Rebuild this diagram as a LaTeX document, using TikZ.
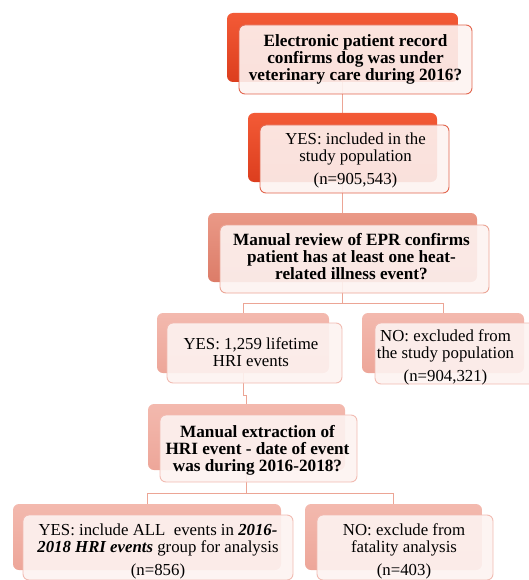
\documentclass[tikz,border=0pt]{standalone}
\usepackage{fontspec}
\setmainfont{Liberation Serif}
\usetikzlibrary{backgrounds}
\definecolor{redtop}{HTML}{F35A36}
\definecolor{redbot}{HTML}{DC3E1E}
\definecolor{midtop}{HTML}{EA9987}
\definecolor{midbot}{HTML}{DC7C68}
\definecolor{lighttop}{HTML}{F3B9AE}
\definecolor{lightbot}{HTML}{EDA699}
\definecolor{frontfill}{HTML}{FDF3F1}
\definecolor{redline}{HTML}{E2664E}
\definecolor{midline}{HTML}{EBA596}
\definecolor{lightline}{HTML}{F2BBB2}
\definecolor{connc}{HTML}{ECA595}
\tikzset{
  backbox/.style={rounded corners=6pt, inner sep=0pt, draw=none},
  backred/.style={backbox, top color=redtop, bottom color=redbot},
  backmid/.style={backbox, top color=midtop, bottom color=midbot},
  backlight/.style={backbox, top color=lighttop, bottom color=lightbot},
  frontbox/.style={rounded corners=6pt, inner sep=0pt, fill=frontfill, fill opacity=0.9, text opacity=1, line width=0.9pt},
  frontred/.style={frontbox, draw=redline},
  frontmid/.style={frontbox, draw=midline},
  frontlight/.style={frontbox, draw=lightline},
  txt/.style={align=center, inner sep=0pt, font=\fontsize{16.8}{17}\selectfont, text=black},
  btxt/.style={txt, font=\fontsize{17.2}{17}\selectfont\bfseries},
  conn/.style={draw=connc, line width=0.9pt},
}
\begin{document}
\begin{tikzpicture}[x=1pt,y=-1pt]
\useasboundingbox (0,0) rectangle (529,580);
% box 1
\node[backred, minimum width=231pt, minimum height=69pt] (b1b) at (342.5,47.5) {};
\node[frontred, minimum width=233pt, minimum height=69pt] (b1f) at (355.5,59.5) {};
\node[btxt] (t1) at (355.5,59.5) {Electronic patient record\\confirms dog was under\\veterinary care during 2016?};
% box 2
\node[backred, minimum width=189pt, minimum height=69pt] (b2b) at (342.5,147.5) {};
\node[frontred, minimum width=189pt, minimum height=68pt] (b2f) at (354.5,159) {};
\node[txt] (t2) at (355.5,160) {YES: included in the\\study population\\[6pt](n=905,543)};
% box 3
\node[backmid, minimum width=269pt, minimum height=69pt] (b3b) at (342.5,247.5) {};
\node[frontmid, minimum width=269pt, minimum height=68pt] (b3f) at (354.5,259) {};
\node[btxt] (t3) at (351.5,257) {Manual review of EPR confirms\\patient has at least one heat-\\related illness event?};
% box 4
\node[backlight, minimum width=172pt, minimum height=60pt] (b4b) at (243,343) {};
\node[frontlight, minimum width=175pt, minimum height=60pt] (b4f) at (254.5,353) {};
\node[txt] (t4) at (251,352) {YES: 1,259 lifetime\\HRI events};
% box 5
\node[backlight, minimum width=162pt, minimum height=60pt] (b5b) at (443,343) {};
\node[frontlight, minimum width=161pt, minimum height=61pt] (b5f) at (455.5,353.5) {};
\node[txt] (t5) at (445.5,357.5) {NO: excluded from\\the study population\\[6pt](n=904,321)};
% box 6
\node[backlight, minimum width=197pt, minimum height=66pt] (b6b) at (246.5,437) {};
\node[frontlight, minimum width=197pt, minimum height=67pt] (b6f) at (258.5,448.5) {};
\node[btxt] (t6) at (257.5,450) {Manual extraction of\\HRI event - date of event\\was during 2016-2018?};
% box 7
\node[backlight, minimum width=268pt, minimum height=66pt] (b7b) at (147,537) {};
\node[frontlight, minimum width=270pt, minimum height=65pt] (b7f) at (158,547.5) {};
\node[txt] (t7) at (158,551) {YES: include ALL\ \ events in \textbf{\textit{2016-}}\\\textbf{\textit{2018 HRI events}} group\ for analysis\\[6pt](n=856)};
% box 8
\node[backlight, minimum width=177pt, minimum height=66pt] (b8b) at (393.5,537) {};
\node[frontlight, minimum width=176pt, minimum height=65pt] (b8f) at (405,547.5) {};
\node[txt] (t8) at (404,551) {NO: exclude from\\fatality analysis\\[6pt](n=403)};
% connectors
\coordinate (j1) at (342.5,303);
\coordinate (j2) at (243,395);
\coordinate (j3) at (246.5,493);
\begin{scope}[on background layer]
\draw[conn] (b1b.south) -- (b2b.north);
\draw[conn] (b2b.south) -- (b3b.north);
\draw[conn] (b3b.south) -- (j1) -| (b4b.north);
\draw[conn] (j1) -| (b5b.north);
\draw[conn] (b4b.south) -- (j2) -| (b6b.north);
\draw[conn] (b6b.south) -- (j3) -| (b7b.north);
\draw[conn] (j3) -| (b8b.north);
\end{scope}
\end{tikzpicture}
\end{document}
